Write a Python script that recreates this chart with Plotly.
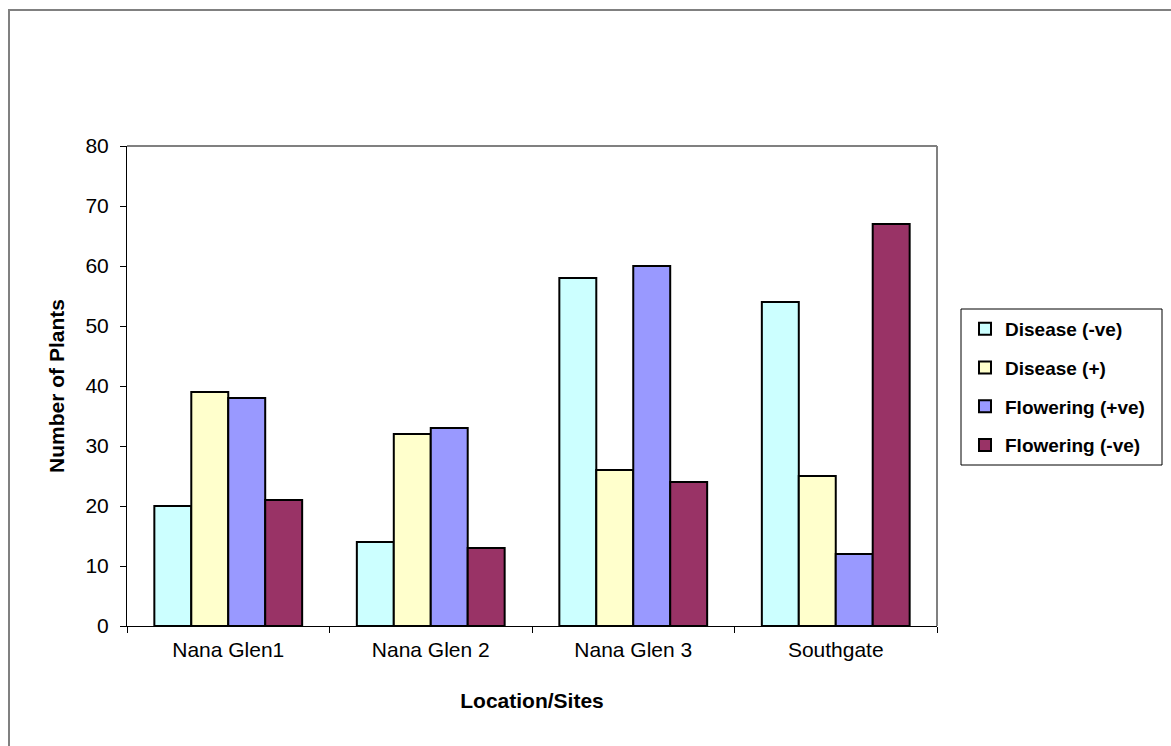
import plotly.graph_objects as go

sites = ["Nana Glen1", "Nana Glen 2", "Nana Glen 3", "Southgate"]
disease_neg = [20, 14, 58, 54]
disease_pos = [39, 32, 26, 25]
flowering_pos = [38, 33, 60, 12]
flowering_neg = [21, 13, 24, 67]

series = [
    ("Disease (-ve)", disease_neg, "#CCFFFF"),
    ("Disease (+)", disease_pos, "#FFFFCC"),
    ("Flowering (+ve)", flowering_pos, "#9999FF"),
    ("Flowering (-ve)", flowering_neg, "#993366"),
]

W, H = 1171, 746
L, R, T, B = 127, 937, 146, 626

fig = go.Figure()
for i, (name, vals, col) in enumerate(series):
    fig.add_trace(go.Bar(
        x=sites, y=vals, name=name, legendgroup=f"g{i}",
        marker=dict(color=col, line=dict(color="black", width=2)),
    ))

def px(x):
    return (x - L) / (R - L)

def py(y):
    return (B - y) / (B - T)

shapes = [
    # outer chart frame
    dict(type="rect", xref="paper", yref="paper",
         x0=px(9), x1=px(1175), y0=py(750), y1=py(10),
         line=dict(color="#808080", width=2), layer="below"),
    # plot area top and right edges
    dict(type="line", xref="paper", yref="paper", x0=0, x1=1, y0=1, y1=1,
         line=dict(color="#808080", width=2)),
    dict(type="line", xref="paper", yref="paper", x0=1, x1=1, y0=0, y1=1,
         line=dict(color="#808080", width=2)),
    # legend frame
    dict(type="rect", xref="paper", yref="paper",
         x0=px(961), x1=px(1162), y0=py(465), y1=py(309),
         line=dict(color="black", width=1), fillcolor="white", layer="below"),
]

font_family = "Liberation Sans, Arial, sans-serif"

fig.update_layout(
    width=W, height=H,
    margin=dict(l=L, r=W - R, t=T, b=H - B),
    paper_bgcolor="white", plot_bgcolor="white",
    barmode="group", bargap=0.27, bargroupgap=0,
    font=dict(family=font_family, size=21, color="black"),
    shapes=shapes,
    showlegend=True,
    legend=dict(
        x=px(965), y=py(310), xanchor="left", yanchor="top",
        borderwidth=0, bgcolor="rgba(0,0,0,0)",
        font=dict(family=font_family, size=19, color="black", weight="bold"),
        tracegroupgap=11, itemwidth=30,
    ),
    xaxis=dict(
        type="category", tickson="boundaries", ticks="outside", ticklen=6,
        tickcolor="black", showline=True, linecolor="black", linewidth=1,
        showgrid=False, tickfont=dict(size=21), ticklabelstandoff=5,
        title=dict(text="<b>Location/Sites</b>", font=dict(size=21), standoff=33),
    ),
    yaxis=dict(
        range=[0, 80], dtick=10, ticks="outside", ticklen=6, tickcolor="black",
        showline=True, linecolor="black", linewidth=1, showgrid=False,
        zeroline=False, tickfont=dict(size=21), ticklabelstandoff=7,
        title=dict(text="<b>Number of Plants</b>", font=dict(size=21), standoff=15),
    ),
)

fig.write_html("out.html")
